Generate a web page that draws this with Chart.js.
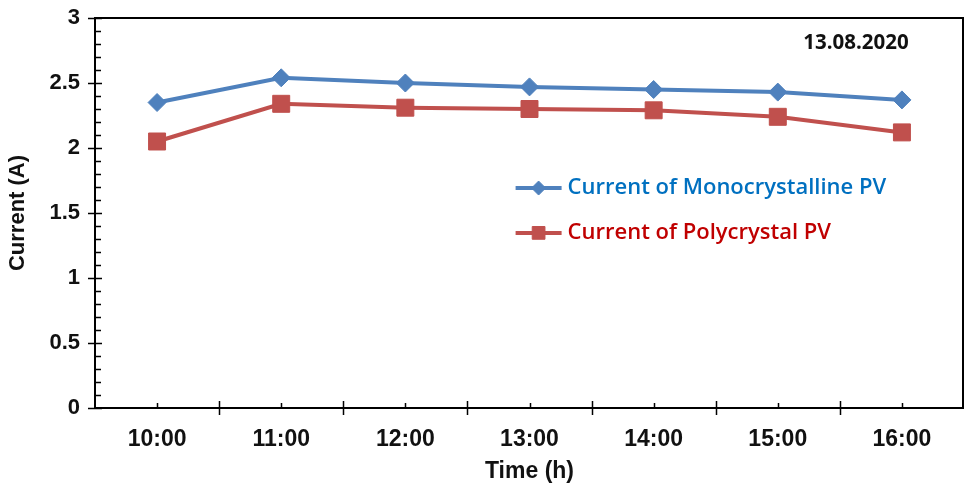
<!DOCTYPE html>
<html>
<head>
<meta charset="utf-8">
<script src="https://cdn.jsdelivr.net/npm/chart.js@4"></script>
<style>
  html, body { margin: 0; padding: 0; background: #fff; overflow: hidden; }
  #wrap { width: 964px; height: 487px; position: relative; }
  #c { display: block; }
</style>
</head>
<body>
<div id="wrap"><canvas id="c" width="964" height="487"></canvas></div>
<script>
// Hourly readings, 13.08.2020
const hours = ['10:00', '11:00', '12:00', '13:00', '14:00', '15:00', '16:00'];
const monoCurrent = [2.35, 2.54, 2.50, 2.47, 2.45, 2.43, 2.37];
const polyCurrent = [2.05, 2.34, 2.31, 2.30, 2.29, 2.24, 2.12];
const yTickLabels = ['0', '0.5', '1', '1.5', '2', '2.5', '3'];
const seriesNames = ['Current of Monocrystalline PV', 'Current of Polycrystal PV'];
const dateLabel = '13.08.2020';

const BLUE = '#4F81BD';
const RED = '#C0504D';
const AXIS_FONT = 'Arial, "Liberation Sans", sans-serif';
const NOTE_FONT = '"Open Sans", Lato, sans-serif';

// Box around the plot plus Excel-style crossing / inner tick marks
const frameAndTicks = {
  id: 'frameAndTicks',
  afterDatasetsDraw(chart) {
    const { ctx, chartArea: a, scales: { x, y } } = chart;
    const right = Math.min(a.right, chart.width) - 1;
    ctx.save();
    ctx.strokeStyle = '#000';
    ctx.lineWidth = 2;
    ctx.strokeRect(a.left, a.top, right - a.left, a.bottom - a.top);
    ctx.lineWidth = 1.5;
    ctx.beginPath();
    // y axis: major every 0.5 crossing, minor every 0.1 inward
    for (let i = 0; i <= 30; i++) {
      const py = Math.round(y.getPixelForValue(i / 10)) + 0.5;
      if (i % 5 === 0) { ctx.moveTo(a.left - 7, py); ctx.lineTo(a.left + 7, py); }
      else { ctx.moveTo(a.left, py); ctx.lineTo(a.left + 6, py); }
    }
    // x axis: boundaries crossing, category centres inward
    const half = (x.getPixelForValue(1) - x.getPixelForValue(0)) / 2;
    for (let i = 0; i < hours.length; i++) {
      const cx = Math.round(x.getPixelForValue(i)) + 0.5;
      ctx.moveTo(cx, a.bottom); ctx.lineTo(cx, a.bottom - 5);
      const bx = Math.round(x.getPixelForValue(i) - half) + 0.5;
      if (i > 0) { ctx.moveTo(bx, a.bottom - 7); ctx.lineTo(bx, a.bottom + 7); }
    }
    ctx.stroke();
    ctx.restore();
  }
};

// Legend inside the plot and the date note
const innerLegend = {
  id: 'innerLegend',
  afterDatasetsDraw(chart) {
    const { ctx, chartArea: a } = chart;
    const w = a.right - a.left, h = a.bottom - a.top;
    const entries = [
      { ds: chart.data.datasets[0], text: seriesNames[0], color: '#0070C0', r: 7, y: a.top + h * 0.436 },
      { ds: chart.data.datasets[1], text: seriesNames[1], color: '#C00000', r: 9, y: a.top + h * 0.551 }
    ];
    const x0 = a.left + w * 0.484;
    ctx.save();
    entries.forEach(e => {
      ctx.strokeStyle = e.ds.borderColor;
      ctx.lineWidth = 4;
      ctx.beginPath();
      ctx.moveTo(x0, e.y); ctx.lineTo(x0 + 46, e.y);
      ctx.stroke();
      ctx.fillStyle = e.ds.pointBackgroundColor;
      ctx.strokeStyle = e.ds.pointBorderColor;
      ctx.lineWidth = 1;
      Chart.helpers.drawPoint(ctx, { pointStyle: e.ds.pointStyle, radius: e.r, borderWidth: 1 }, x0 + 23, e.y);
      ctx.fillStyle = e.color;
      ctx.font = '600 22px ' + NOTE_FONT;
      ctx.textBaseline = 'middle';
      ctx.textAlign = 'left';
      ctx.fillText(e.text, x0 + 52, e.y);
    });
    ctx.fillStyle = '#111';
    ctx.font = 'bold 20.5px ' + NOTE_FONT;
    ctx.textBaseline = 'middle';
    ctx.textAlign = 'left';
    ctx.fillText(dateLabel, a.left + w * 0.815, a.top + 25);
    ctx.restore();
  }
};

new Chart(document.getElementById('c'), {
  type: 'line',
  data: {
    labels: hours,
    datasets: [
      {
        label: seriesNames[0],
        data: monoCurrent,
        borderColor: BLUE,
        backgroundColor: BLUE,
        pointBackgroundColor: BLUE,
        pointBorderColor: BLUE,
        borderWidth: 4,
        pointStyle: 'rectRot',
        pointRadius: 9,
        pointBorderWidth: 1,
        tension: 0
      },
      {
        label: seriesNames[1],
        data: polyCurrent,
        borderColor: RED,
        backgroundColor: RED,
        pointBackgroundColor: RED,
        pointBorderColor: RED,
        borderWidth: 4,
        pointStyle: 'rect',
        pointRadius: 12,
        pointBorderWidth: 1,
        tension: 0
      }
    ]
  },
  options: {
    responsive: false,
    animation: false,
    layout: { autoPadding: false, padding: { top: 18, right: -2, left: 0, bottom: 0 } },
    plugins: { legend: { display: false }, tooltip: { enabled: false } },
    scales: {
      x: {
        offset: true,
        grid: { display: false, drawTicks: false },
        border: { display: false },
        ticks: { color: '#111', padding: 18, font: { family: AXIS_FONT, size: 23, weight: 'bold' }, maxRotation: 0 },
        title: { display: true, text: 'Time (h)', color: '#111', padding: { top: 0, bottom: 2 }, font: { family: AXIS_FONT, size: 23, weight: 'bold' } },
        afterFit(s) { s.height = 79; s.paddingLeft = 0; s.paddingRight = 0; }
      },
      y: {
        min: 0,
        max: 3,
        grid: { display: false, drawTicks: false },
        border: { display: false },
        ticks: {
          stepSize: 0.5,
          color: '#111',
          padding: 15,
          font: { family: AXIS_FONT, size: 22, weight: 'bold' },
          callback: (v) => yTickLabels[Math.round(v * 2)]
        },
        title: { display: true, text: 'Current (A)', color: '#111', padding: { top: 5, bottom: 0 }, font: { family: AXIS_FONT, size: 22, weight: 'bold' } },
        afterFit(s) { s.width = 95; s.paddingTop = 0; s.paddingBottom = 0; }
      }
    }
  },
  plugins: [frameAndTicks, innerLegend]
});
</script>
</body>
</html>
